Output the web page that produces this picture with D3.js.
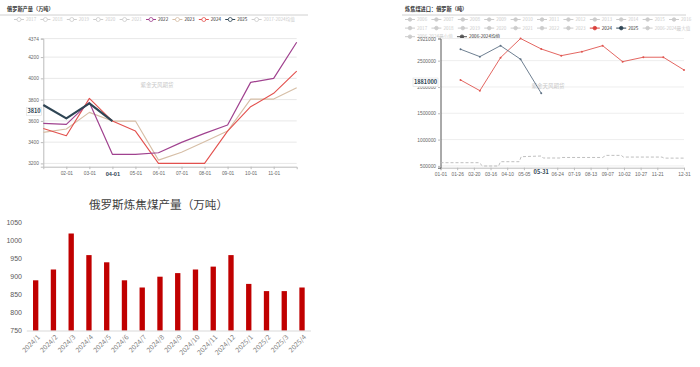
<!DOCTYPE html>
<html>
<head>
<meta charset="utf-8">
<script src="https://cdn.jsdelivr.net/npm/d3@7"></script>
<style>
  body { margin: 0; background: #fff; }
  svg { display: block; font-family: "Noto Sans CJK SC", "Noto Sans", sans-serif; }
</style>
</head>
<body>
<svg id="chart" width="700" height="367"></svg>
<script>
// ---------- 俄罗斯产量（万吨） ----------
const ruMonths = ['01-01','02-01','03-01','04-01','05-01','06-01','07-01','08-01','09-01','10-01','11-01','12-01'];
const ruTickLabels = ['02-01','03-01','04-01','05-01','06-01','07-01','08-01','09-01','10-01','11-01'];
const ruYTicks = [3200, 3400, 3600, 3800, 4000, 4200, 4374];
const ru2022 = [3576, 3567, 3774, 3285, 3285, 3300, 3398, 3482, 3561, 3962, 4000, 4340];
const ru2023 = [3492, 3523, 3680, 3598, 3598, 3231, 3304, 3404, 3504, 3805, 3805, 3912];
const ru2024 = [3529, 3460, 3812, 3598, 3504, 3200, 3200, 3200, 3504, 3733, 3859, 4069];
const ru2025 = [3749, 3624, 3765, 3598];
const ruLegend = ['2017','2018','2019','2020','2021','2022','2023','2024','2025','2017-2024均值'];

// ---------- 炼焦煤进口：俄罗斯（吨） ----------
const imDates = ['01-31','02-29','03-31','04-30','05-31','06-30','07-31','08-31','09-30','10-31','11-30','12-31'];
const im2024 = [2133000, 1930000, 2557000, 2921000, 2722000, 2595000, 2671000, 2785000, 2481000, 2565000, 2565000, 2323000];
const im2025 = [2717000, 2576000, 2785000, 2527000, 1881000];
const imMeanDates = ['01-01','02-28','03-04','03-28','03-31','04-28','05-01','05-31','06-03','06-28','07-01','08-31','09-05','09-28','10-01','11-28','12-01','12-31'];
const imMean = [561000, 561000, 498000, 498000, 580000, 580000, 675000, 688000, 650000, 650000, 660000, 660000, 700000, 700000, 668000, 668000, 648000, 648000];
const imYTicks = [500000, 1000000, 1500000, 2000000, 2500000, 2921000];
const imXTicks = ['01-01','01-26','02-20','03-16','04-10','05-05','06-24','07-19','08-13','09-07','10-02','10-27','11-21','12-31'];
const imLegendRows = [
  ['2006','2007','2008','2009','2010','2011','2012','2013','2014','2015','2016'],
  ['2017','2018','2019','2020','2021','2022','2023','2024','2025','2006-2024最大值'],
  ['2006-2024最小值','2006-2024均值']
];

// ---------- 俄罗斯炼焦煤产量（万吨） ----------
const cokeMonths = ['2024/1','2024/2','2024/3','2024/4','2024/5','2024/6','2024/7','2024/8','2024/9','2024/10','2024/11','2024/12','2025/1','2025/2','2025/3','2025/4'];
const cokeOutput = [890, 920, 1020, 960, 940, 890, 870, 900, 910, 920, 928, 960, 880, 860, 860, 870];
const cokeYTicks = [750, 800, 850, 900, 950, 1000, 1050];

const svg = d3.select('#chart');

function styleAxis(g, lineColor, textColor, size) {
  g.select('.domain').attr('stroke', lineColor);
  g.selectAll('.tick line').attr('stroke', lineColor);
  g.selectAll('.tick text').attr('fill', textColor).style('font-size', size + 'px');
}

function drawLegend(g, items, x0, y, colors, hollow) {
  let x = x0;
  items.forEach(name => {
    const c = colors[name] || '#ccc';
    const it = g.append('g').attr('transform', `translate(${x},${y})`);
    it.append('line').attr('x1', 0).attr('x2', 10).attr('stroke', c).attr('stroke-width', 1);
    it.append('circle').attr('cx', 5).attr('r', hollow ? 2 : 1.8)
      .attr('fill', hollow ? '#fff' : c).attr('stroke', c).attr('stroke-width', 0.8);
    const t = it.append('text').attr('x', 12).attr('dy', '0.35em')
      .style('font-size', '4.6px').attr('fill', colors[name] ? '#333' : '#ccc').text(name);
    x += 12 + t.node().getComputedTextLength() + 4.2;
  });
}

// ===== left top: line chart =====
const ru = svg.append('g');
const ruX = d3.scalePoint().domain(ruMonths).range([43.3, 296.7]);
const ruY = d3.scaleLinear().domain([3169, 4374]).range([166.7, 38.6]);

ru.append('text').attr('x', 7).attr('y', 11).style('font-size', '5.2px').style('font-weight', 'bold')
  .attr('fill', '#333').text('俄罗斯产量（万吨）');
ru.append('line').attr('x1', 0).attr('x2', 308).attr('y1', 15).attr('y2', 15).attr('stroke', '#d0d0d0');

drawLegend(ru.append('g'), ruLegend, 14, 19.5,
  { '2022': '#a0428f', '2023': '#d6bea6', '2024': '#e3514e', '2025': '#2f4554' }, true);

ru.append('g').selectAll('line').data(ruYTicks).join('line')
  .attr('x1', 43.3).attr('x2', 296.7)
  .attr('y1', d => ruY(d)).attr('y2', d => ruY(d))
  .attr('stroke', '#e8e8e8');

const ruYAxis = ru.append('g').attr('transform', 'translate(43.3,0)')
  .call(d3.axisLeft(ruY).tickValues(ruYTicks).tickSize(2.5).tickPadding(2).tickFormat(d3.format('d')));
styleAxis(ruYAxis, '#bbb', '#666', 4.8);

const ruXAxis = ru.append('g').attr('transform', 'translate(0,166.7)')
  .call(d3.axisBottom(ruX).tickValues(ruTickLabels).tickSize(2.5).tickPadding(2.5));
styleAxis(ruXAxis, '#bbb', '#666', 4.8);
ruXAxis.selectAll('.tick text').filter(d => d === '04-01')
  .attr('fill', '#2f4554').style('font-weight', 'bold').style('font-size', '5.6px');

ru.append('text').attr('x', 157).attr('y', 87).attr('text-anchor', 'middle')
  .style('font-size', '5.5px').attr('fill', '#c8c8c8').text('紫金天风期货');

const ruLine = d3.line().x((d, i) => ruX(ruMonths[i])).y(d => ruY(d));
const ruSeries = [
  { values: ru2023, color: '#d6bea6', w: 1.1 },
  { values: ru2024, color: '#e3514e', w: 1.1 },
  { values: ru2022, color: '#a0428f', w: 1.2 },
  { values: ru2025, color: '#2f4554', w: 2.2 }
];
ru.append('g').selectAll('path').data(ruSeries).join('path')
  .attr('d', d => ruLine(d.values))
  .attr('fill', 'none').attr('stroke', d => d.color).attr('stroke-width', d => d.w)
  .attr('stroke-linejoin', 'round');

// axis pointer label on y
const ruPtr = ru.append('g').attr('transform', `translate(42,${ruY(3690)})`);
ruPtr.append('rect').attr('x', -15.5).attr('y', -4).attr('width', 15).attr('height', 8)
  .attr('fill', '#fff').attr('stroke', '#ddd').attr('stroke-width', 0.6);
ruPtr.append('text').attr('x', -8).attr('dy', '0.35em').attr('text-anchor', 'middle')
  .style('font-size', '5.6px').style('font-weight', 'bold').attr('fill', '#2f4554').text('3810');

// ===== right top: import line chart =====
const im = svg.append('g');
const parseDay = s => d3.timeParse('%Y-%m-%d')('2024-' + s);
const imX = d3.scaleTime().domain([parseDay('01-01'), parseDay('12-31')]).range([440.5, 684]);
const imY = d3.scaleLinear().domain([465800, 2921000]).range([167.7, 38.5]);

im.append('text').attr('x', 405).attr('y', 11).style('font-size', '5.2px').style('font-weight', 'bold')
  .attr('fill', '#333').text('炼焦煤进口：俄罗斯（吨）');
im.append('line').attr('x1', 402).attr('x2', 686).attr('y1', 15).attr('y2', 15).attr('stroke', '#d0d0d0');

const imColors = { '2024': '#d9413c', '2025': '#2f4554', '2006-2024均值': '#555' };
imLegendRows.forEach((row, r) => drawLegend(im.append('g'), row, 405, 19.5 + r * 8.6, imColors, false));

im.append('g').selectAll('line').data(imYTicks).join('line')
  .attr('x1', 440.5).attr('x2', 684)
  .attr('y1', d => imY(d)).attr('y2', d => imY(d))
  .attr('stroke', '#eee');

const imXAxis = im.append('g').attr('transform', 'translate(0,167.7)')
  .call(d3.axisBottom(imX).tickValues(imXTicks.map(parseDay)).tickFormat(d3.timeFormat('%m-%d'))
    .tickSize(2.5).tickPadding(2.5));
styleAxis(imXAxis, '#bbb', '#666', 4.8);

const imYAxis = im.append('g').attr('transform', 'translate(440.5,0)')
  .call(d3.axisLeft(imY).tickValues(imYTicks).tickSize(2.5).tickPadding(2).tickFormat(d3.format('d')));
styleAxis(imYAxis, '#555', '#666', 4.8);
imYAxis.selectAll('.tick line').attr('stroke', '#bbb');

im.append('text').attr('x', 548).attr('y', 88).attr('text-anchor', 'middle')
  .style('font-size', '5.5px').attr('fill', '#c8c8c8').text('紫金天风期货');

const imSeries = [
  { dates: imMeanDates, values: imMean, color: '#b8b8b8', dash: '3,2', dots: false },
  { dates: imDates, values: im2024, color: '#e0554f', dash: null, dots: true },
  { dates: imDates, values: im2025, color: '#5d7084', dash: null, dots: true }
];
imSeries.forEach(s => {
  const pts = s.values.map((v, i) => [imX(parseDay(s.dates[i])), imY(v)]);
  im.append('path').attr('d', d3.line()(pts)).attr('fill', 'none')
    .attr('stroke', s.color).attr('stroke-width', 0.9).attr('stroke-dasharray', s.dash);
  if (s.dots) {
    im.append('g').selectAll('circle').data(pts).join('circle')
      .attr('cx', d => d[0]).attr('cy', d => d[1]).attr('r', 1).attr('fill', s.color);
  }
});

// axis pointer labels
const imPx = im.append('g').attr('transform', `translate(${imX(parseDay('05-31'))},172.3)`);
imPx.append('rect').attr('x', -9).attr('y', -3.5).attr('width', 18).attr('height', 7).attr('fill', '#fff');
imPx.append('text').attr('text-anchor', 'middle').attr('dy', '0.35em')
  .style('font-size', '5.6px').style('font-weight', 'bold').attr('fill', '#2f4554').text('05-31');

const imPy = im.append('g').attr('transform', `translate(439,${imY(2090000)})`);
imPy.append('rect').attr('x', -26).attr('y', -4.2).attr('width', 25).attr('height', 8.4)
  .attr('fill', '#fff').attr('stroke', '#ddd').attr('stroke-width', 0.6);
imPy.append('text').attr('x', -13.5).attr('dy', '0.35em').attr('text-anchor', 'middle')
  .style('font-size', '5.6px').style('font-weight', 'bold').attr('fill', '#2f4554').text('1881000');

// ===== bottom: coke output bars =====
const ck = svg.append('g');
const ckX = d3.scaleBand().domain(cokeMonths).range([26.8, 310.9]).paddingInner(0.7).paddingOuter(0.35);
const ckY = d3.scaleLinear().domain([750, 1050]).range([330.7, 222.7]);

ck.append('text').attr('x', 158.5).attr('y', 208.5).attr('text-anchor', 'middle')
  .style('font-size', '11.6px').attr('fill', '#404040').text('俄罗斯炼焦煤产量（万吨）');

ck.append('g').selectAll('rect').data(cokeOutput).join('rect')
  .attr('x', (d, i) => ckX(cokeMonths[i]))
  .attr('width', ckX.bandwidth())
  .attr('y', d => ckY(d))
  .attr('height', d => ckY(750) - ckY(d))
  .attr('fill', '#c00000');

const ckYAxis = ck.append('g').attr('transform', 'translate(25,0)')
  .call(d3.axisLeft(ckY).tickValues(cokeYTicks).tickSize(0).tickPadding(3).tickFormat(d3.format('d')));
ckYAxis.select('.domain').remove();
ckYAxis.selectAll('.tick text').attr('fill', '#595959').style('font-size', '7px');

ck.append('line').attr('x1', 26.8).attr('x2', 310.9).attr('y1', 331).attr('y2', 331).attr('stroke', '#d9d9d9');

ck.append('g').selectAll('text').data(cokeMonths).join('text')
  .attr('transform', d => `translate(${ckX(d) + ckX.bandwidth() / 2 + 3},336) rotate(-45)`)
  .attr('text-anchor', 'end').attr('dy', '0.35em')
  .style('font-size', '6.8px').attr('fill', '#7f7f7f').text(d => d);
</script>
</body>
</html>
